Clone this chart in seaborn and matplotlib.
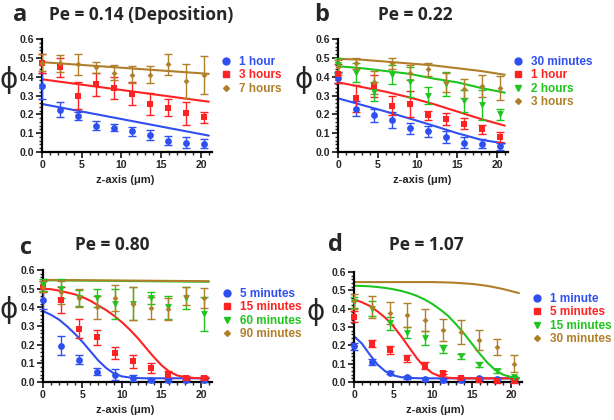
import numpy as np
import pandas as pd
import matplotlib
matplotlib.use('agg')
import matplotlib.pyplot as plt
import seaborn as sns
from matplotlib.lines import Line2D
from matplotlib.ticker import MultipleLocator

# measured depths (um)
z = [0, 2.27, 4.54, 6.81, 9.08, 11.35, 13.62, 15.89, 18.16, 20.43]
zfit = [0, 1, 2, 3, 4, 5, 6, 7, 8, 9, 10, 11, 12, 13, 14, 15, 16, 17, 18, 19, 20, 21]

colors = ['#2f4ff0', '#ff2222', '#1fc41f', '#b07f2a']
markers = ['o', 's', 'v', 'D']

# panel a, Pe = 0.14
a_labels = ['1 hour', '3 hours', '7 hours']
a_style = [0, 1, 3]
a_mean = [[0.35, 0.225, 0.19, 0.14, 0.13, 0.11, 0.09, 0.06, 0.05, 0.045],
          [0.47, 0.45, 0.30, 0.36, 0.34, 0.31, 0.255, 0.235, 0.205, 0.185],
          [0.475, 0.47, 0.465, 0.45, 0.42, 0.41, 0.41, 0.465, 0.375, 0.41]]
a_err = [[0.07, 0.04, 0.02, 0.025, 0.02, 0.025, 0.025, 0.025, 0.03, 0.025],
         [0.05, 0.05, 0.07, 0.06, 0.06, 0.06, 0.06, 0.045, 0.06, 0.03],
         [0.045, 0.045, 0.055, 0.03, 0.04, 0.045, 0.045, 0.055, 0.09, 0.10]]
a_fit_z = [[0, 21], [0, 21], [0, 21]]
a_fit = [[0.255, 0.087], [0.386, 0.267], [0.477, 0.415]]

# panel b, Pe = 0.22
b_labels = ['30 minutes', '1 hour', '2 hours', '3 hours']
b_style = [0, 1, 2, 3]
b_mean = [[0.395, 0.23, 0.195, 0.17, 0.125, 0.11, 0.08, 0.05, 0.045, 0.03],
          [0.415, 0.285, 0.35, 0.245, 0.255, 0.195, 0.175, 0.15, 0.12, 0.08],
          [0.46, 0.42, 0.32, 0.41, 0.37, 0.30, 0.36, 0.27, 0.25, 0.20],
          [0.45, 0.47, 0.37, 0.47, 0.42, 0.44, 0.37, 0.335, 0.35, 0.34]]
b_err = [[0.03, 0.04, 0.035, 0.04, 0.03, 0.03, 0.03, 0.03, 0.025, 0.02],
         [0.05, 0.07, 0.06, 0.05, 0.07, 0.025, 0.03, 0.03, 0.025, 0.025],
         [0.04, 0.05, 0.05, 0.05, 0.08, 0.045, 0.065, 0.06, 0.08, 0.03],
         [0.04, 0.03, 0.06, 0.03, 0.04, 0.035, 0.05, 0.05, 0.06, 0.065]]
b_zs = [0, 3, 6, 9, 12, 15, 18, 21]
b_fit_z = [b_zs, b_zs, b_zs, b_zs]
b_fit = [[0.285, 0.25, 0.215, 0.178, 0.14, 0.10, 0.065, 0.045],
         [0.37, 0.345, 0.32, 0.29, 0.255, 0.215, 0.175, 0.14],
         [0.455, 0.445, 0.43, 0.415, 0.39, 0.37, 0.34, 0.315],
         [0.495, 0.49, 0.48, 0.47, 0.46, 0.445, 0.43, 0.41]]

# panel c, Pe = 0.80
c_labels = ['5 minutes', '15 minutes', '60 minutes', '90 minutes']
c_style = [0, 1, 2, 3]
c_mean = [[0.44, 0.195, 0.12, 0.055, 0.04, 0.02, 0.01, 0.01, 0.01, 0.01],
          [0.51, 0.44, 0.285, 0.24, 0.155, 0.11, 0.075, 0.04, 0.02, 0.02],
          [0.52, 0.50, 0.45, 0.45, 0.42, 0.42, 0.45, 0.40, 0.45, 0.365],
          [0.51, 0.48, 0.45, 0.40, 0.45, 0.42, 0.395, 0.39, 0.46, 0.45]]
c_err = [[0.05, 0.05, 0.025, 0.02, 0.03, 0.015, 0.008, 0.008, 0.008, 0.008],
         [0.03, 0.07, 0.05, 0.04, 0.03, 0.035, 0.025, 0.02, 0.01, 0.01],
         [0.03, 0.05, 0.045, 0.05, 0.08, 0.09, 0.03, 0.06, 0.06, 0.09],
         [0.03, 0.06, 0.05, 0.06, 0.07, 0.09, 0.06, 0.06, 0.05, 0.055]]
c_fit_z = [zfit, zfit, [0, 21], [0, 21]]
c_fit = [[0.38, 0.36, 0.335, 0.30, 0.26, 0.215, 0.165, 0.115, 0.075, 0.045, 0.03,
          0.024, 0.021, 0.02, 0.02, 0.02, 0.02, 0.02, 0.02, 0.02, 0.02, 0.02],
         [0.50, 0.497, 0.49, 0.48, 0.47, 0.455, 0.435, 0.41, 0.385, 0.355, 0.32,
          0.28, 0.235, 0.185, 0.135, 0.09, 0.055, 0.035, 0.026, 0.022, 0.02, 0.02],
         [0.545, 0.537],
         [0.547, 0.54]]

# panel d, Pe = 1.07
d_labels = ['1 minute', '5 minutes', '15 minutes', '30 minutes']
d_style = [0, 1, 2, 3]
d_mean = [[0.195, 0.11, 0.05, 0.025, 0.015, 0.01, 0.01, 0.02, 0.015, 0.01],
          [0.355, 0.21, 0.175, 0.13, 0.09, 0.05, 0.02, 0.01, 0.005, 0.005],
          [0.435, 0.40, 0.32, 0.27, 0.24, 0.18, 0.14, 0.095, 0.06, 0.025],
          [0.44, 0.41, 0.375, 0.365, 0.34, 0.285, 0.275, 0.23, 0.19, 0.10]]
d_err = [[0.02, 0.015, 0.008, 0.008, 0.008, 0.008, 0.008, 0.008, 0.008, 0.008],
         [0.03, 0.02, 0.02, 0.02, 0.02, 0.008, 0.008, 0.008, 0.008, 0.008],
         [0.03, 0.04, 0.035, 0.03, 0.04, 0.02, 0.015, 0.015, 0.01, 0.01],
         [0.04, 0.06, 0.06, 0.065, 0.06, 0.06, 0.065, 0.055, 0.045, 0.045]]
d_fit_z = [zfit, zfit, zfit, zfit]
d_fit = [[0.25, 0.21, 0.15, 0.095, 0.058, 0.036, 0.026, 0.022, 0.021, 0.02, 0.02,
          0.02, 0.02, 0.02, 0.02, 0.02, 0.02, 0.02, 0.02, 0.02, 0.02, 0.02],
         [0.45, 0.435, 0.415, 0.385, 0.35, 0.305, 0.25, 0.19, 0.13, 0.08, 0.048,
          0.03, 0.023, 0.021, 0.02, 0.02, 0.02, 0.02, 0.02, 0.02, 0.02, 0.02],
         [0.525, 0.524, 0.522, 0.518, 0.513, 0.506, 0.497, 0.485, 0.47, 0.45, 0.425,
          0.395, 0.36, 0.315, 0.265, 0.21, 0.155, 0.105, 0.065, 0.04, 0.027, 0.022],
         [0.545, 0.545, 0.545, 0.545, 0.545, 0.545, 0.545, 0.545, 0.545, 0.545, 0.545,
          0.544, 0.543, 0.541, 0.538, 0.535, 0.53, 0.524, 0.516, 0.507, 0.496, 0.485]]

sns.set_style('ticks')
plt.rcParams['font.family'] = ['Liberation Sans', 'DejaVu Sans']

fig = plt.figure(figsize=(6.14, 4.2), dpi=100)

W, H = 614.0, 420.0


def px(x, y):
    return x / W, 1 - y / H


def draw_panel(rect, labels, style, means, errs, fit_zs, fits, leg_xy):
    ax = fig.add_axes(rect)
    n = len(labels)
    cols = [colors[k] for k in style]
    mks = [markers[k] for k in style]
    for i in range(n):
        sns.lineplot(x=fit_zs[i], y=fits[i], ax=ax, color=cols[i], lw=1.5, zorder=2)
    for i in range(n):
        ax.errorbar(z, means[i], yerr=errs[i], fmt='none', ecolor=cols[i],
                    elinewidth=1.0, capsize=3, capthick=1.0, clip_on=False, zorder=3)
        ms = 24 if mks[i] != 'D' else 9
        sns.scatterplot(x=z, y=means[i], ax=ax, color=cols[i], marker=mks[i],
                        s=ms, edgecolor=cols[i], linewidth=0, clip_on=False, zorder=4)
    ax.set_xlim(0, 21.4)
    ax.set_ylim(0, 0.6)
    ax.xaxis.set_major_locator(MultipleLocator(5))
    ax.xaxis.set_minor_locator(MultipleLocator(1))
    ax.yaxis.set_major_locator(MultipleLocator(0.1))
    ax.yaxis.set_minor_locator(MultipleLocator(0.02))
    ax.yaxis.set_major_formatter(matplotlib.ticker.FormatStrFormatter('%.1f'))
    for s in ['top', 'right']:
        ax.spines[s].set_visible(False)
    for s in ['left', 'bottom']:
        ax.spines[s].set_linewidth(1.6)
        ax.spines[s].set_color('black')
    ax.tick_params(which='major', length=4, width=1.3, labelsize=7.5, pad=1.5)
    ax.tick_params(which='minor', length=2.2, width=1.0)
    for t in ax.get_xticklabels() + ax.get_yticklabels():
        t.set_fontweight('bold')
    ax.set_xlabel('')
    ax.set_ylabel('')
    handles = [Line2D([], [], ls='none', marker=mks[i], color=cols[i],
                      markersize=5 if mks[i] != 'D' else 3) for i in range(n)]
    ax.legend(handles, labels, loc='upper left', bbox_to_anchor=px(*leg_xy),
              bbox_transform=fig.transFigure, frameon=False, labelcolor=cols,
              prop={'weight': 'bold', 'size': 8.5}, handlelength=0.8,
              handletextpad=0.7, labelspacing=0.12, borderaxespad=0, borderpad=0)
    return ax


draw_panel([42 / W, 1 - 152 / H, 170 / W, 113 / H], a_labels, a_style, a_mean,
           a_err, a_fit_z, a_fit, (221, 56))
draw_panel([338 / W, 1 - 152 / H, 170 / W, 113 / H], b_labels, b_style, b_mean,
           b_err, b_fit_z, b_fit, (513, 56))
draw_panel([43 / W, 1 - 382 / H, 169 / W, 112 / H], c_labels, c_style, c_mean,
           c_err, c_fit_z, c_fit, (222, 288))
draw_panel([354 / W, 1 - 382 / H, 168 / W, 110 / H], d_labels, d_style, d_mean,
           d_err, d_fit_z, d_fit, (532, 293))

# panel letters and titles
tfont = ['Open Sans', 'DejaVu Sans']
for (x, y, s) in [(20, 15, 'a'), (322, 15, 'b'), (26, 248, 'c'), (335, 245, 'd')]:
    fig.text(*px(x, y), s, ha='center', va='center', fontsize=17,
             fontweight='bold', family=tfont)
for (x, y, s) in [(141, 15, 'Pe = 0.14 (Deposition)'), (415, 15, 'Pe = 0.22'),
                  (112, 245, 'Pe = 0.80'), (426, 245, 'Pe = 1.07')]:
    fig.text(*px(x, y), s, ha='center', va='center', fontsize=12.5,
             fontweight='bold', family=tfont)
for (x, y) in [(125, 180), (422, 180), (125, 410), (435, 410)]:
    fig.text(*px(x, y), 'z-axis (\u03bcm)', ha='center', va='center',
             fontsize=8, fontweight='bold')
for (x, y) in [(9, 80), (304, 80), (9, 310), (316, 312)]:
    fig.text(*px(x, y), '\u03d5', ha='center', va='center', fontsize=20,
             family=['DejaVu Sans'])

fig.savefig('out.png', dpi=100)
